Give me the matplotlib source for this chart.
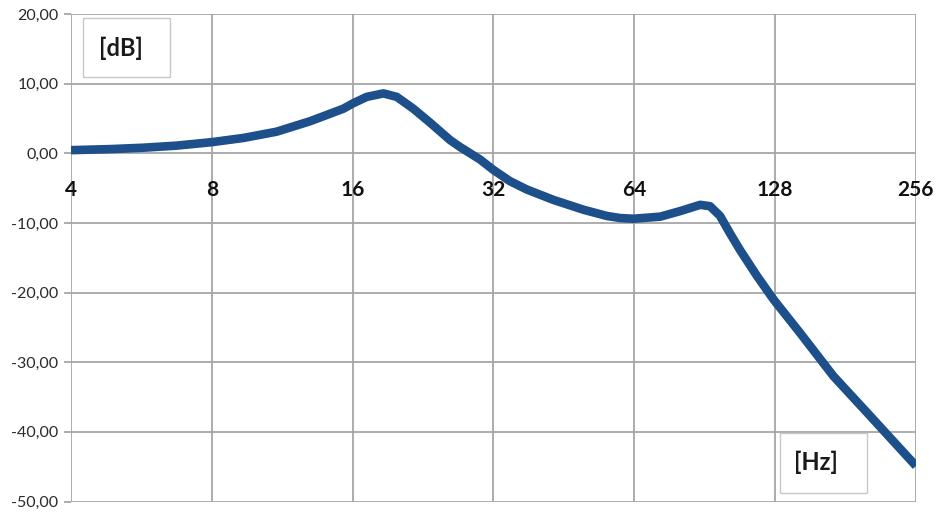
import numpy as np
import matplotlib.pyplot as plt
from matplotlib.patches import Rectangle

# frequency response (Hz, dB)
freq_hz = [4, 4.85, 5.71, 6.73, 8.0, 9.34, 11.0, 12.97, 15.28, 16.06, 17.15,
           18.61, 19.88, 21.57, 23.42, 25.84, 27.15, 29.96, 32, 34.7, 37.7,
           43.0, 49.8, 55.9, 59.7, 63.7, 72.7, 80.2, 88.5, 92.9, 97.6, 102.5,
           107.7, 117.0, 127, 144.7, 170.5, 201, 256]
level_db = [0.45, 0.6, 0.8, 1.1, 1.6, 2.2, 3.1, 4.6, 6.4, 7.2, 8.1,
            8.6, 8.1, 6.4, 4.4, 1.9, 0.9, -0.9, -2.4, -4.0, -5.2,
            -6.7, -8.1, -9.0, -9.3, -9.4, -9.1, -8.3, -7.4, -7.6, -9.0, -11.5,
            -13.9, -17.6, -21.0, -25.8, -32.0, -37.2, -44.9]

x_ticks = [4, 8, 16, 32, 64, 128, 256]
y_ticks = [20, 10, 0, -10, -20, -30, -40, -50]

fig = plt.figure(figsize=(9.39, 5.13), dpi=100)
ax = fig.add_axes([71 / 939, 1 - 501.5 / 513, 845 / 939, 487.5 / 513])

ax.plot(freq_hz, level_db, color='#1d4f8b', lw=6.2, solid_capstyle='butt',
        solid_joinstyle='round', zorder=3)

ax.set_xscale('log', base=2)
ax.set_xlim(4, 256)
ax.set_ylim(-50, 20)

grid_c = '#a6a6a6'
for x in x_ticks:
    ax.axvline(x, color=grid_c, lw=1.3, zorder=1)
for y in y_ticks:
    ax.axhline(y, color=grid_c, lw=1.3, zorder=1)
for s in ax.spines.values():
    s.set_visible(False)

ax.set_xticks([])
ax.minorticks_off()
ax.set_yticks(y_ticks)
ax.set_yticklabels(['%d,00' % v for v in y_ticks], fontfamily='Lato',
                   fontsize=11.5, color='#2a2a2a')
ax.tick_params(axis='y', length=5, width=1.3, color=grid_c, pad=4)

# octave labels sit just under the 0 dB line
for x in x_ticks:
    ax.text(x, -5.3, str(x), ha='center', va='center', fontfamily='Lato',
            fontweight='bold', fontsize=15, color='#111111', zorder=4)

# unit boxes
for x0, y0, w, h, tx, ty, label in [(0.0142, 0.8708, 0.103, 0.121, 0.0592, 0.929, '[dB]'),
                                    (0.839, 0.0174, 0.1026, 0.123, 0.8817, 0.080, '[Hz]')]:
    ax.add_patch(Rectangle((x0, y0), w, h, transform=ax.transAxes, fc='white',
                           ec='#c8c8c8', lw=1.0, zorder=5))
    ax.text(tx, ty, label, transform=ax.transAxes, ha='center', va='center',
            fontfamily='Lato', fontweight='bold', fontsize=17, color='#1a1a1a',
            zorder=6)

fig.savefig('out.png', dpi=100)
